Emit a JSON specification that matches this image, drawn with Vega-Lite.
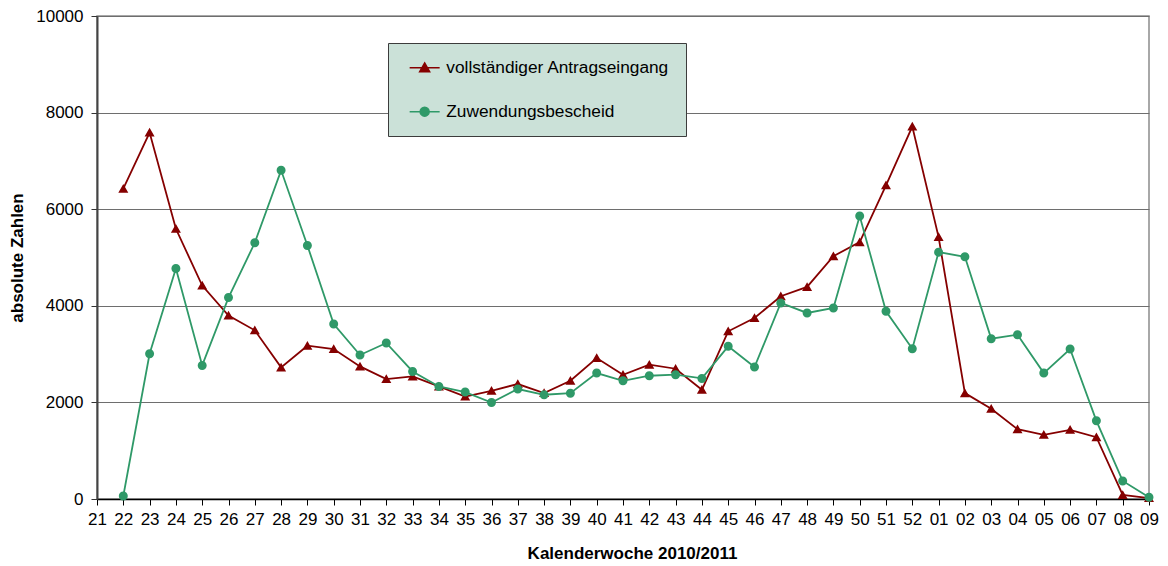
{
  "$schema": "https://vega.github.io/schema/vega-lite/v6.json",
  "width": 1052,
  "height": 483,
  "autosize": {"type": "none"},
  "padding": {"left": 97, "top": 16, "right": 19, "bottom": 67},
  "background": "white",
  "config": {
    "font": "Liberation Sans",
    "view": {"stroke": "#8c8c8c", "strokeWidth": 1.5},
    "axis": {"labelFont": "Liberation Sans", "titleFont": "Liberation Sans", "labelColor": "#000", "titleColor": "#000"}
  },
  "data": {
    "values": [
      {"week": "22", "series": "vollständiger Antragseingang", "value": 6425},
      {"week": "23", "series": "vollständiger Antragseingang", "value": 7587},
      {"week": "24", "series": "vollständiger Antragseingang", "value": 5595},
      {"week": "25", "series": "vollständiger Antragseingang", "value": 4419},
      {"week": "26", "series": "vollständiger Antragseingang", "value": 3797},
      {"week": "27", "series": "vollständiger Antragseingang", "value": 3492},
      {"week": "28", "series": "vollständiger Antragseingang", "value": 2725},
      {"week": "29", "series": "vollständiger Antragseingang", "value": 3174},
      {"week": "30", "series": "vollständiger Antragseingang", "value": 3105},
      {"week": "31", "series": "vollständiger Antragseingang", "value": 2745},
      {"week": "32", "series": "vollständiger Antragseingang", "value": 2483},
      {"week": "33", "series": "vollständiger Antragseingang", "value": 2537},
      {"week": "34", "series": "vollständiger Antragseingang", "value": 2330},
      {"week": "35", "series": "vollständiger Antragseingang", "value": 2122},
      {"week": "36", "series": "vollständiger Antragseingang", "value": 2241},
      {"week": "37", "series": "vollständiger Antragseingang", "value": 2380},
      {"week": "38", "series": "vollständiger Antragseingang", "value": 2193},
      {"week": "39", "series": "vollständiger Antragseingang", "value": 2448},
      {"week": "40", "series": "vollständiger Antragseingang", "value": 2919},
      {"week": "41", "series": "vollständiger Antragseingang", "value": 2573},
      {"week": "42", "series": "vollständiger Antragseingang", "value": 2780},
      {"week": "43", "series": "vollständiger Antragseingang", "value": 2697},
      {"week": "44", "series": "vollständiger Antragseingang", "value": 2261},
      {"week": "45", "series": "vollständiger Antragseingang", "value": 3472},
      {"week": "46", "series": "vollständiger Antragseingang", "value": 3748},
      {"week": "47", "series": "vollständiger Antragseingang", "value": 4198},
      {"week": "48", "series": "vollständiger Antragseingang", "value": 4391},
      {"week": "49", "series": "vollständiger Antragseingang", "value": 5028},
      {"week": "50", "series": "vollständiger Antragseingang", "value": 5318},
      {"week": "51", "series": "vollständiger Antragseingang", "value": 6494},
      {"week": "52", "series": "vollständiger Antragseingang", "value": 7711},
      {"week": "01", "series": "vollständiger Antragseingang", "value": 5422},
      {"week": "02", "series": "vollständiger Antragseingang", "value": 2192},
      {"week": "03", "series": "vollständiger Antragseingang", "value": 1867},
      {"week": "04", "series": "vollständiger Antragseingang", "value": 1446},
      {"week": "05", "series": "vollständiger Antragseingang", "value": 1328},
      {"week": "06", "series": "vollständiger Antragseingang", "value": 1432},
      {"week": "07", "series": "vollständiger Antragseingang", "value": 1279},
      {"week": "08", "series": "vollständiger Antragseingang", "value": 83},
      {"week": "09", "series": "vollständiger Antragseingang", "value": 20},
      {"week": "22", "series": "Zuwendungsbescheid", "value": 62},
      {"week": "23", "series": "Zuwendungsbescheid", "value": 3008},
      {"week": "24", "series": "Zuwendungsbescheid", "value": 4772},
      {"week": "25", "series": "Zuwendungsbescheid", "value": 2766},
      {"week": "26", "series": "Zuwendungsbescheid", "value": 4170},
      {"week": "27", "series": "Zuwendungsbescheid", "value": 5305},
      {"week": "28", "series": "Zuwendungsbescheid", "value": 6805},
      {"week": "29", "series": "Zuwendungsbescheid", "value": 5249},
      {"week": "30", "series": "Zuwendungsbescheid", "value": 3624},
      {"week": "31", "series": "Zuwendungsbescheid", "value": 2981},
      {"week": "32", "series": "Zuwendungsbescheid", "value": 3230},
      {"week": "33", "series": "Zuwendungsbescheid", "value": 2641},
      {"week": "34", "series": "Zuwendungsbescheid", "value": 2330},
      {"week": "35", "series": "Zuwendungsbescheid", "value": 2213},
      {"week": "36", "series": "Zuwendungsbescheid", "value": 1998},
      {"week": "37", "series": "Zuwendungsbescheid", "value": 2276},
      {"week": "38", "series": "Zuwendungsbescheid", "value": 2158},
      {"week": "39", "series": "Zuwendungsbescheid", "value": 2192},
      {"week": "40", "series": "Zuwendungsbescheid", "value": 2608},
      {"week": "41", "series": "Zuwendungsbescheid", "value": 2448},
      {"week": "42", "series": "Zuwendungsbescheid", "value": 2552},
      {"week": "43", "series": "Zuwendungsbescheid", "value": 2573},
      {"week": "44", "series": "Zuwendungsbescheid", "value": 2497},
      {"week": "45", "series": "Zuwendungsbescheid", "value": 3160},
      {"week": "46", "series": "Zuwendungsbescheid", "value": 2732},
      {"week": "47", "series": "Zuwendungsbescheid", "value": 4059},
      {"week": "48", "series": "Zuwendungsbescheid", "value": 3852},
      {"week": "49", "series": "Zuwendungsbescheid", "value": 3956},
      {"week": "50", "series": "Zuwendungsbescheid", "value": 5857},
      {"week": "51", "series": "Zuwendungsbescheid", "value": 3887},
      {"week": "52", "series": "Zuwendungsbescheid", "value": 3112},
      {"week": "01", "series": "Zuwendungsbescheid", "value": 5111},
      {"week": "02", "series": "Zuwendungsbescheid", "value": 5014},
      {"week": "03", "series": "Zuwendungsbescheid", "value": 3320},
      {"week": "04", "series": "Zuwendungsbescheid", "value": 3402},
      {"week": "05", "series": "Zuwendungsbescheid", "value": 2607},
      {"week": "06", "series": "Zuwendungsbescheid", "value": 3105},
      {"week": "07", "series": "Zuwendungsbescheid", "value": 1618},
      {"week": "08", "series": "Zuwendungsbescheid", "value": 373},
      {"week": "09", "series": "Zuwendungsbescheid", "value": 35}
    ]
  },
  "encoding": {
    "x": {
      "field": "week",
      "type": "ordinal",
      "scale": {
        "type": "point",
        "padding": 0,
        "domain": ["21","22","23","24","25","26","27","28","29","30","31","32","33","34","35","36","37","38","39","40","41","42","43","44","45","46","47","48","49","50","51","52","01","02","03","04","05","06","07","08","09"]
      },
      "axis": {
        "title": "Kalenderwoche 2010/2011",
        "titleFontSize": 17,
        "titleFontWeight": "bold",
        "titlePadding": 18,
        "titleX": 535,
        "labelAngle": 0,
        "labelFontSize": 17,
        "labelPadding": 6,
        "tickSize": 6,
        "tickColor": "#000",
        "domainColor": "#000",
        "domainWidth": 1.5,
        "tickWidth": 1,
        "grid": false
      }
    },
    "y": {
      "field": "value",
      "type": "quantitative",
      "scale": {"domain": [0, 10000], "nice": false},
      "axis": {
        "title": "absolute Zahlen",
        "titleFontSize": 17,
        "titleFontWeight": "bold",
        "titlePadding": 9,
        "values": [0, 2000, 4000, 6000, 8000, 10000],
        "format": "d",
        "labelFontSize": 17,
        "labelPadding": 8,
        "tickSize": 6,
        "tickColor": "#333",
        "domainColor": "#444",
        "domainWidth": 2,
        "gridColor": "#6e6e6e",
        "gridWidth": 1.2
      }
    },
    "color": {
      "field": "series",
      "type": "nominal",
      "scale": {
        "domain": ["vollständiger Antragseingang", "Zuwendungsbescheid"],
        "range": ["#850000", "#2f9968"]
      },
      "legend": {
        "orient": "none",
        "legendX": 291,
        "legendY": 27,
        "title": null,
        "fillColor": "#cbe1d8",
        "strokeColor": "#3c3c3c",
        "padding": 16,
        "labelFont": "Liberation Sans",
        "labelFontSize": 17.3,
        "labelColor": "#000",
        "labelLimit": 500,
        "symbolSize": 100,
        "symbolOffset": 12,
        "labelOffset": 13,
        "rowPadding": 26,
        "symbolStrokeWidth": 1.5,
        "symbolStrokeColor": "#850000"
      }
    }
  },
  "layer": [
    {
      "mark": {"type": "line", "strokeWidth": 1.8}
    },
    {
      "mark": {"type": "point", "filled": true, "opacity": 1, "size": 100, "strokeWidth": 0},
      "encoding": {
        "shape": {
          "field": "series",
          "type": "nominal",
          "scale": {
            "domain": ["vollständiger Antragseingang", "Zuwendungsbescheid"],
            "range": ["M-3,0H3M0,-0.95L1,0.8L-1,0.8Z", "M-3,0H3M0.9,0A0.9,0.9,0,1,1,-0.9,0A0.9,0.9,0,1,1,0.9,0"]
          },
          "legend": {
            "orient": "none",
            "legendX": 291,
            "legendY": 27,
            "title": null,
            "fillColor": "#cbe1d8",
            "strokeColor": "#3c3c3c",
            "padding": 16,
            "labelFont": "Liberation Sans",
            "labelFontSize": 17.3,
            "labelColor": "#000",
            "labelLimit": 500,
            "symbolSize": 100,
            "symbolOffset": 12,
            "labelOffset": 13,
            "rowPadding": 26,
            "symbolStrokeWidth": 1.5,
            "symbolStrokeColor": "#850000"
          }
        }
      }
    }
  ]
}
